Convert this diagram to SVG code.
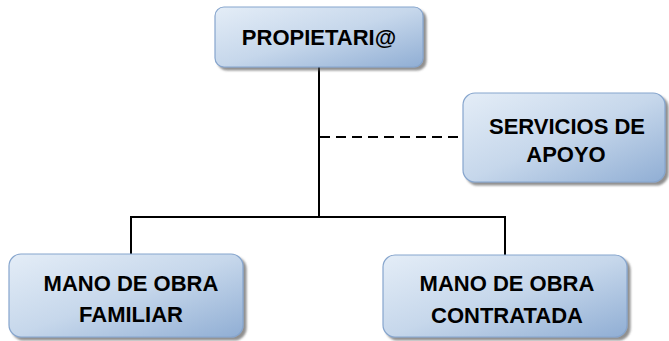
<svg xmlns="http://www.w3.org/2000/svg" width="669" height="341" viewBox="0 0 669 341">
<defs>
<linearGradient id="g" x1="0" y1="0" x2="1" y2="1">
<stop offset="0" stop-color="#e4edf7"/>
<stop offset="0.5" stop-color="#c6d7eb"/>
<stop offset="1" stop-color="#90aed4"/>
</linearGradient>
<filter id="sh" x="-10%" y="-10%" width="125%" height="130%">
<feDropShadow dx="3" dy="3" stdDeviation="1" flood-color="#555" flood-opacity="0.65"/>
</filter>
</defs>
<style>
.box{fill:url(#g);stroke:#86a5cd;stroke-width:1.2;filter:url(#sh)}
.t{font-family:"Liberation Sans",Arial,sans-serif;font-weight:bold;font-size:22px;fill:#000;text-anchor:middle}
.ln{stroke:#000;stroke-width:2;fill:none}
.dash{stroke:#000;stroke-width:2;fill:none;stroke-dasharray:10 6}
</style>
<g id="connectors">
<path class="ln" d="M319 67 V217 M131 254 V217 H505 V255"/>
<path class="dash" d="M320 137 H463"/>
</g>
<g id="propietario">
<rect class="box" x="215" y="7" width="208" height="60" rx="9"/>
<text class="t" x="319" y="45">PROPIETARI@</text>
</g>
<g id="servicios">
<rect class="box" x="463" y="93" width="202" height="89" rx="12"/>
<text class="t" x="567" y="134">SERVICIOS DE</text>
<text class="t" x="566" y="162">APOYO</text>
</g>
<g id="familiar">
<rect class="box" x="9" y="254" width="234" height="83" rx="12"/>
<text class="t" x="131" y="291">MANO DE OBRA</text>
<text class="t" x="131" y="322">FAMILIAR</text>
</g>
<g id="contratada">
<rect class="box" x="383" y="255" width="244" height="82" rx="12"/>
<text class="t" x="507" y="291">MANO DE OBRA</text>
<text class="t" x="507" y="323">CONTRATADA</text>
</g>
</svg>
